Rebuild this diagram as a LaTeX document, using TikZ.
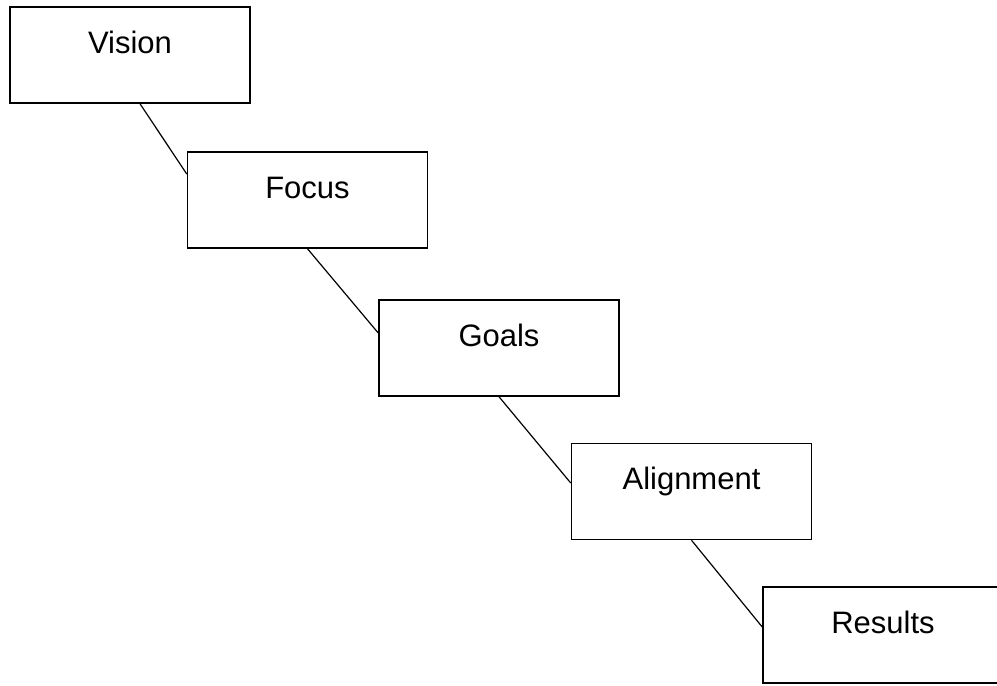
\documentclass[tikz,border=0pt]{standalone}
\usepackage{fontspec}
\setmainfont{Liberation Sans}
\usepackage{tikz}

\begin{document}
\begin{tikzpicture}[x=1pt, y=-1pt,
    stage/.style={draw, line width=1.5pt, rectangle, inner sep=0pt,
      minimum width=240pt, minimum height=96pt,
      text height=24pt, text depth=28pt,
      font=\fontsize{31}{37}\selectfont}]

    \useasboundingbox (0,0) rectangle (997,686);
    \clip (0,0) rectangle (997,686);

    \node[stage] (vision) at (130,55) {Vision};

    \node[stage] (focus) at (307.5,200) {Focus};

    \node[stage] (goals) at (499,348) {Goals};

    \node[stage] (alignment) at (691.5,491.5) {Alignment};

    \node[stage] (results) at (883,635) {Results};


    \draw[line width=1.2pt] ([xshift=10pt]vision.south) -- ([yshift=26pt]focus.west);

    \draw[line width=1.2pt] (focus.south) -- ([yshift=15pt]goals.west);

    \draw[line width=1.2pt] (goals.south) -- ([yshift=8.5pt]alignment.west);

    \draw[line width=1.2pt] (alignment.south) -- ([yshift=8pt]results.west);

\end{tikzpicture}
\end{document}
